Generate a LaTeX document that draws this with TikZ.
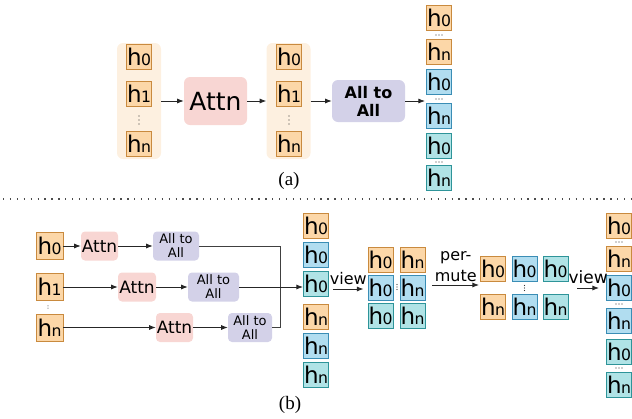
\documentclass[tikz,border=0pt]{standalone}
\usepackage{fontspec}
\setmainfont{Liberation Serif}
\newfontfamily\boxfont{DejaVu Sans}
\usepackage{tikz}
\usetikzlibrary{arrows.meta,positioning,calc}
\definecolor{orgF}{HTML}{FCD7A8}
\definecolor{orgD}{HTML}{C98A3E}
\definecolor{bluF}{HTML}{B1DDF0}
\definecolor{bluD}{HTML}{3A8DB5}
\definecolor{tealF}{HTML}{B0E3E6}
\definecolor{tealD}{HTML}{2E9499}
\definecolor{attnF}{HTML}{F8D6D3}
\definecolor{ataF}{HTML}{D3D1E8}
\definecolor{contF}{HTML}{FDF0E0}
\newcommand{\hZero}{h\kern-0.6pt\scalebox{0.68}{0}}
\newcommand{\hOne}{h\kern-0.6pt\scalebox{0.68}{1}}
\newcommand{\hEn}{h\kern-0.6pt\scalebox{0.68}{n}}
% three small dots round a point, across (h) or down (v)
\newcommand{\hdotsAt}[2]{\foreach \d in {-3,0,3} \fill[black!80] ($(#1)+(\d,0)$) circle (#2);}
\newcommand{\vdotsAt}[3]{\foreach \d in {-#3,0,#3} \fill[black!80] ($(#1)+(0,\d)$) circle (#2);}
\tikzset{
  Tok/.style={draw, line width=0.9pt, minimum width=25pt, minimum height=25pt,
              inner sep=0pt, font=\boxfont\fontsize{23}{23}\selectfont},
  TokO/.style={Tok, fill=orgF, draw=orgD},
  TokB/.style={Tok, fill=bluF, draw=bluD},
  TokT/.style={Tok, fill=tealF, draw=tealD},
  Cont/.style={fill=contF, rounded corners=6pt, minimum width=44pt,
               minimum height=116pt, inner sep=0pt},
  AttnA/.style={fill=attnF, rounded corners=6pt, minimum width=63pt, minimum height=48pt,
                inner sep=0pt, font=\boxfont\fontsize{25}{25}\selectfont},
  AttnB/.style={fill=attnF, rounded corners=4pt, minimum width=37pt, minimum height=29pt,
                inner sep=0pt, font=\boxfont\fontsize{17}{17}\selectfont},
  AtaA/.style={fill=ataF, rounded corners=6pt, minimum width=73pt, minimum height=42pt,
               inner sep=0pt, align=center, font=\boxfont\bfseries\fontsize{16}{18}\selectfont},
  AtaB/.style={fill=ataF, rounded corners=4pt, minimum width=46pt, minimum height=29pt,
               inner sep=0pt, align=center, font=\boxfont\fontsize{13}{14}\selectfont},
  Narr/.style={-{Latex}, line width=0.8pt, draw=black!85},
  Nline/.style={line width=0.8pt, draw=black!75},
  Lbl/.style={inner sep=0pt, align=center, font=\boxfont\fontsize{16}{21}\selectfont},
  Cap/.style={inner sep=0pt, font=\fontsize{19}{19}\selectfont},
  Sep/.style={line width=1.3pt, draw=black!70, dash pattern=on 1.3pt off 5.6pt}
}
\begin{document}
\begin{tikzpicture}[x=1pt,y=-1pt]
  \useasboundingbox (0,0) rectangle (632,418);
  % (a) one Attn over the whole sequence
  \node[Cont] (aL) at (139,101) {};
  \node[TokO] (aL0) at (139,57) {\hZero};
  \node[TokO] (aL1) at (139,94) {\hOne};
  \coordinate (aLd) at (139,120);
  \node[TokO] (aLn) at (139,144) {\hEn};
  \node[AttnA] (aAttn) at (215.5,101) {Attn};
  \node[Cont] (aM) at (288.5,101) {};
  \node[TokO] (aM0) at (289,57) {\hZero};
  \node[TokO] (aM1) at (289,94) {\hOne};
  \coordinate (aMd) at (289,120);
  \node[TokO] (aMn) at (289,144) {\hEn};
  \vdotsAt{aLd}{0.65}{4}
  \vdotsAt{aMd}{0.65}{4}
  \node[AtaA] (aAta) at (368.5,101) {All to\\All};
  \node[TokO] (aR1) at (439,18) {\hZero};
  \coordinate (aRd1) at (439,35);
  \node[TokO] (aR2) at (439,51.5) {\hEn};
  \node[TokB] (aR3) at (439,82) {\hZero};
  \coordinate (aRd2) at (439,99);
  \node[TokB] (aR4) at (439,116) {\hEn};
  \node[TokT] (aR5) at (439,146) {\hZero};
  \coordinate (aRd3) at (439,162);
  \node[TokT] (aR6) at (439,177.5) {\hEn};
  \hdotsAt{aRd1}{0.6}
  \hdotsAt{aRd2}{0.6}
  \hdotsAt{aRd3}{0.6}
  \coordinate (aIn) at (425,101);
  \draw[Narr] (aL) -- (aAttn);
  \draw[Narr] (aAttn) -- (aM);
  \draw[Narr] (aM) -- (aAta);
  \draw[Narr] (aAta) -- (aIn);
  \node[Cap] (capA) at (289,181) {(a)};

  \draw[Sep] (3,199) -- (632,199);

  % (b) one Attn per token
  \node[TokO, minimum size=27pt] (bh0) at (49.5,246) {\hZero};
  \node[TokO, minimum size=27pt] (bh1) at (49.5,287) {\hOne};
  \coordinate (bhd) at (48,307);
  \vdotsAt{bhd}{0.4}{1.5}
  \node[TokO, minimum size=27pt] (bhn) at (49.5,327.5) {\hEn};
  \node[AttnB] (attn1) at (99.5,246) {Attn};
  \node[AttnB, minimum width=38pt] (attn2) at (137,287) {Attn};
  \node[AttnB] (attn3) at (174.5,327.5) {Attn};
  \node[AtaB] (ata1) at (176,246) {All to\\All};
  \node[AtaB, minimum width=51pt] (ata2) at (213.5,287) {All to\\All};
  \node[AtaB, minimum width=44pt] (ata3) at (250,327.5) {All to\\All};
  \draw[Narr] (bh0) -- (attn1);
  \draw[Narr] (attn1) -- (ata1);
  \draw[Narr] (bh1) -- (attn2);
  \draw[Narr] (attn2) -- (ata2);
  \draw[Narr] (bhn) -- (attn3);
  \draw[Narr] (attn3) -- (ata3);
  \node[TokO] (bC1) at (316,225.5) {\hZero};
  \node[TokB] (bC2) at (316,254.5) {\hZero};
  \node[TokT] (bC3) at (316,283.5) {\hZero};
  \node[TokO] (bC4) at (316,316.5) {\hEn};
  \node[TokB] (bC5) at (316,345.5) {\hEn};
  \node[TokT] (bC6) at (316,374.5) {\hEn};
  \coordinate (bJoin) at (280,287);
  \draw[Nline] (ata1.east) -| (bJoin);
  \draw[Nline] (ata3.east) -| (bJoin);
  \draw[Narr] (ata2.east) -- (ata2.east -| bC3.west);
  % view -> 3x2
  \node[TokO] (g11) at (380.5,259.5) {\hZero};
  \node[TokB] (g21) at (380.5,287.5) {\hZero};
  \node[TokT] (g31) at (380.5,315.5) {\hZero};
  \node[TokO] (g12) at (412.5,259.5) {\hEn};
  \node[TokB] (g22) at (412.5,287.5) {\hEn};
  \node[TokT] (g32) at (412.5,315.5) {\hEn};
  \coordinate (gd) at (397,287);
  \vdotsAt{gd}{0.6}{2.5}
  \draw[Narr] ($(bC3.east)+(4,5.5)$) -- ($(g21.west)+(-4,1.5)$)
    node[Lbl, midway, above=4pt] (lv1) {view};
  % permute -> 2x3
  \node[TokO] (p11) at (493,268.5) {\hZero};
  \node[TokB] (p12) at (524.5,268.5) {\hZero};
  \node[TokT] (p13) at (555.5,268.5) {\hZero};
  \node[TokO] (p21) at (493,306.5) {\hEn};
  \node[TokB] (p22) at (524.5,306.5) {\hEn};
  \node[TokT] (p23) at (555.5,306.5) {\hEn};
  \coordinate (pd) at (524.5,288);
  \vdotsAt{pd}{0.6}{2.5}
  \draw[Narr] ($(g22.east)+(7,-2.5)$) -- ($(g22.east -| p11.west)+(-1,-2.5)$)
    node[Lbl, midway, above=3pt] (lp) {per-\\mute};
  % view -> column
  \node[TokO] (bR1) at (619,225.5) {\hZero};
  \coordinate (bRd1) at (619,242);
  \node[TokO] (bR2) at (619,258.5) {\hEn};
  \node[TokB] (bR3) at (619,288) {\hZero};
  \coordinate (bRd2) at (619,304);
  \node[TokB] (bR4) at (619,320.5) {\hEn};
  \node[TokT] (bR5) at (619,351.5) {\hZero};
  \coordinate (bRd3) at (619,368);
  \node[TokT] (bR6) at (619,384.5) {\hEn};
  \hdotsAt{bRd1}{0.6}
  \hdotsAt{bRd2}{0.6}
  \hdotsAt{bRd3}{0.6}
  \draw[Narr] ($(p13.east)!0.5!(p23.east)+(9,0.5)$) -- ($(bR3.west)+(-7,0)$)
    node[Lbl, midway, above=4pt, font=\boxfont\fontsize{17}{17}\selectfont] (lv2) {view};
  \node[Cap] (capB) at (290,405) {(b)};
\end{tikzpicture}
\end{document}
